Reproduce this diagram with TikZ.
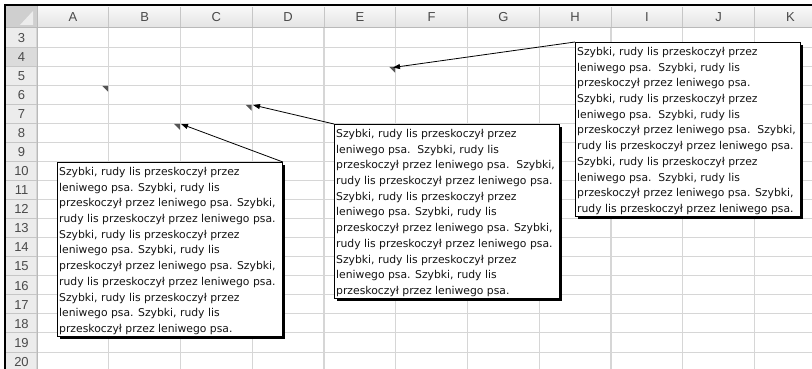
\documentclass[tikz,border=0pt]{standalone}
\usepackage{fontspec}
\setmainfont{DejaVu Sans}
\newfontfamily\hdrfont{Liberation Sans}
\usetikzlibrary{arrows.meta,shadows}
\definecolor{gridc}{HTML}{D6D6D6}
\definecolor{hdrtxt}{HTML}{4A4A4A}
\definecolor{hdrline}{HTML}{C6C6C6}
\definecolor{rowhdr}{HTML}{ECECEC}
\definecolor{indc}{HTML}{555555}
\newcommand{\cmtfont}{\fontsize{10.8}{15.7}\selectfont}
\newcommand{\dsp}{\ \ }
\tikzset{
  hdr/.style={font=\hdrfont\fontsize{13}{13}\selectfont, text=hdrtxt, inner sep=0pt},
  cbox/.style={draw=black, line width=0.9pt, fill=white, anchor=north west,
    minimum width=225pt, minimum height=174pt, inner sep=0pt,
    drop shadow={shadow xshift=3pt, shadow yshift=-3pt, fill=black, opacity=1}},
  ctext/.style={anchor=north west, inner sep=0pt, align=left, font=\cmtfont, text=black!92},
  carrow/.style={draw=black, line width=0.8pt, -{Triangle[length=7pt,width=5pt]}},
  indtri/.style={fill=indc}
}
\begin{document}
\begin{tikzpicture}[x=1pt,y=-1pt]
\useasboundingbox (0,0) rectangle (812,369);
\fill[white] (0,0) rectangle (812,369);
% header row
\shade[top color=white!95!gray, bottom color=gray!22] (6,6) rectangle (812,28);
% row header column
\fill[rowhdr] (6,28) rectangle (37,369);
\fill[gray!28] (6,47.06) rectangle (37,66.12);
% corner cell
\fill[gray!38] (6,6) rectangle (37,28);
\fill[gray!15] (33,11) -- (33,25) -- (20,25) -- cycle;
% grid lines
\foreach \k in {0,...,11} {
  \draw[gridc, line width=1.2pt] ({37+71.75*\k},28) -- ({37+71.75*\k},369);
  \draw[hdrline, line width=1pt] ({37+71.75*\k},7) -- ({37+71.75*\k},28);
}
\foreach \r in {1,...,18} {
  \draw[gridc, line width=1pt] (37,{28+19.06*\r}) -- (812,{28+19.06*\r});
  \draw[hdrline, line width=1pt] (6,{28+19.06*\r}) -- (37,{28+19.06*\r});
}
\draw[gray!55, line width=1pt] (6,28) -- (812,28);
\draw[gray!55, line width=1pt] (37,6) -- (37,369);
% black frame
\draw[black, line width=1.8pt] (4,5) -- (812,5);
\draw[black, line width=1.8pt] (5,4) -- (5,369);
% column letters
\foreach \L [count=\i from 0] in {A,B,C,D,E,F,G,H,I,J,K}
  \node[hdr] (col\L) at ({37+71.75*(\i+0.5)},17.5) {\L};
% row numbers
\foreach \r in {3,...,20}
  \node[hdr] (row\r) at (21.5,{28+19.06*(\r-3)+9.8}) {\r};
% comment indicators
\foreach \cx/\cy [count=\n] in {108.75/85.2, 252.25/104.2, 180.5/123.3, 395.75/66.2}
  \fill[indtri] (\cx-6.5,\cy+0.6) -- (\cx-0.6,\cy+0.6) -- (\cx-0.6,\cy+6.5) -- cycle;
\coordinate (i1) at (181,124);
\coordinate (i2) at (253,105);
\coordinate (i3) at (393,67.5);
% comment boxes
\node[cbox] (b1) at (57,162) {};
\node[cbox] (b2) at (334,124) {};
\node[cbox] (b3) at (575,42) {};
\node[ctext] (t1) at ([shift={(2,5)}]b1.north west) {%
Szybki, rudy lis przeskoczył przez\\
leniwego psa. Szybki, rudy lis\\
przeskoczył przez leniwego psa. Szybki,\\
rudy lis przeskoczył przez leniwego psa.\\
Szybki, rudy lis przeskoczył przez\\
leniwego psa. Szybki, rudy lis\\
przeskoczył przez leniwego psa. Szybki,\\
rudy lis przeskoczył przez leniwego psa.\\
Szybki, rudy lis przeskoczył przez\\
leniwego psa. Szybki, rudy lis\\
przeskoczył przez leniwego psa.};
\node[ctext] (t2) at ([shift={(2,5)}]b2.north west) {%
Szybki, rudy lis przeskoczył przez\\
leniwego psa.\dsp Szybki, rudy lis\\
przeskoczył przez leniwego psa.\dsp Szybki,\\
rudy lis przeskoczył przez leniwego psa.\\
Szybki, rudy lis przeskoczył przez\\
leniwego psa. Szybki, rudy lis\\
przeskoczył przez leniwego psa. Szybki,\\
rudy lis przeskoczył przez leniwego psa.\\
Szybki, rudy lis przeskoczył przez\\
leniwego psa. Szybki, rudy lis\\
przeskoczył przez leniwego psa.};
\node[ctext] (t3) at ([shift={(2,5)}]b3.north west) {%
Szybki, rudy lis przeskoczył przez\\
leniwego psa.\dsp Szybki, rudy lis\\
przeskoczył przez leniwego psa.\\
Szybki, rudy lis przeskoczył przez\\
leniwego psa.\dsp Szybki, rudy lis\\
przeskoczył przez leniwego psa.\dsp Szybki,\\
rudy lis przeskoczył przez leniwego psa.\\
Szybki, rudy lis przeskoczył przez\\
leniwego psa.\dsp Szybki, rudy lis\\
przeskoczył przez leniwego psa. Szybki,\\
rudy lis przeskoczył przez leniwego psa.};
% arrows
\draw[carrow] (b1.north east) -- (i1);
\draw[carrow] (b2.north west) -- (i2);
\draw[carrow] (b3.north west) -- (i3);
\end{tikzpicture}
\end{document}
